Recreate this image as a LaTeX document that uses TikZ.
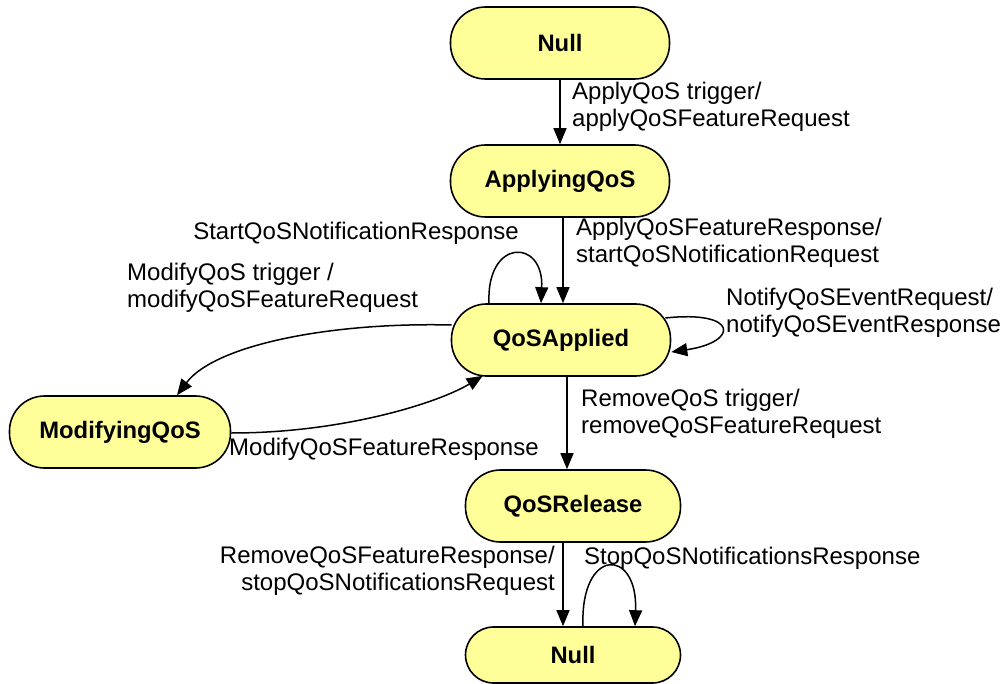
\documentclass[tikz,border=0pt]{standalone}
\usepackage{fontspec}
\setmainfont{Liberation Sans}
\usetikzlibrary{arrows.meta,calc}
\begin{document}
\begin{tikzpicture}[x=1pt,y=-1pt,
  state/.style={draw=black, line width=1.6pt, fill=stateyellow, rounded corners=35pt,
    minimum width=219pt, minimum height=72pt, inner sep=0pt,
    font=\bfseries\fontsize{23.8}{27}\selectfont},
  lbl/.style={inner sep=0pt, font=\fontsize{24}{27}\selectfont},
  conn/.style={line width=1.5pt, -{Triangle[length=16pt,width=13pt]}}]
\definecolor{stateyellow}{HTML}{FFFF99}
\useasboundingbox (0,0) rectangle (1006,684);
\node[state] (nullA) at (560,43) {Null};
\node[state] (applying) at (560,181) {ApplyingQoS};
\node[state] (applied) at (561,340) {QoSApplied};
\node[state, minimum width=221pt] (modifying) at (120,432) {ModifyingQoS};
\node[state, minimum width=215pt] (release) at (573,506) {QoSRelease};
\node[state, minimum width=215pt, minimum height=56pt, rounded corners=28pt] (nullB) at (573,655) {Null};

% straight transitions
\draw[conn] (nullA.south -| 560,0) -- (applying.north -| 560,0);
\draw[conn] (applying.south -| 563,0) -- (applied.north -| 563,0);
\draw[conn] (applied.south -| 567,0) -- (release.north -| 567,0);
\draw[conn] (release.south -| 563,0) -- (nullB.north -| 563,0);

% self loops
\draw[conn] (applied.north -| 489,0) .. controls (486,238) and (544,238) .. (applied.north -| 541,0);
\coordinate (rl1) at ($(applied.east)+(-6,-22)$);
\coordinate (rl2) at ($(applied.east)+(0,12)$);
\draw[conn] (rl1) .. controls (739,310) and (739,342) .. (rl2);
\draw[conn] (nullB.north -| 583,0) .. controls (580,547) and (638,547) .. (nullB.north -| 635,0);

% curved transitions
\coordinate (a1) at ($(applied.west)+(1,-15)$);
\coordinate (m1) at ($(modifying.north)+(57,0)$);
\draw[conn] (a1) .. controls (330,322) and (215,345) .. (m1);
\coordinate (m2) at ($(modifying.east)+(0,1)$);
\coordinate (a2) at ($(applied.south west)+(32,-1)$);
\draw[conn] (m2) .. controls (345,433) and (440,402) .. (a2);

% labels
\node[lbl, anchor=west, align=left] (l1) at (572,107) {ApplyQoS trigger/\\applyQoSFeatureRequest};
\node[lbl, anchor=west, align=left] (l2) at (576,243) {ApplyQoSFeatureResponse/\\startQoSNotificationRequest};
\node[lbl, anchor=east] (l3) at (519,233) {StartQoSNotificationResponse};
\node[lbl, anchor=west, align=left] (l4) at (726,313) {NotifyQoSEventRequest/\\notifyQoSEventResponse};
\node[lbl, anchor=west, align=left] (l5) at (127,288) {ModifyQoS trigger /\\modifyQoSFeatureRequest};
\node[lbl, anchor=west] (l6) at (229,449) {ModifyQoSFeatureResponse};
\node[lbl, anchor=west, align=left] (l7) at (581,414) {RemoveQoS trigger/\\removeQoSFeatureRequest};
\node[lbl, anchor=east, align=right] (l8) at (555,571) {RemoveQoSFeatureResponse/\\stopQoSNotificationsRequest};
\node[lbl, anchor=west] (l9) at (584,558) {StopQoSNotificationsResponse};
\end{tikzpicture}
\end{document}
